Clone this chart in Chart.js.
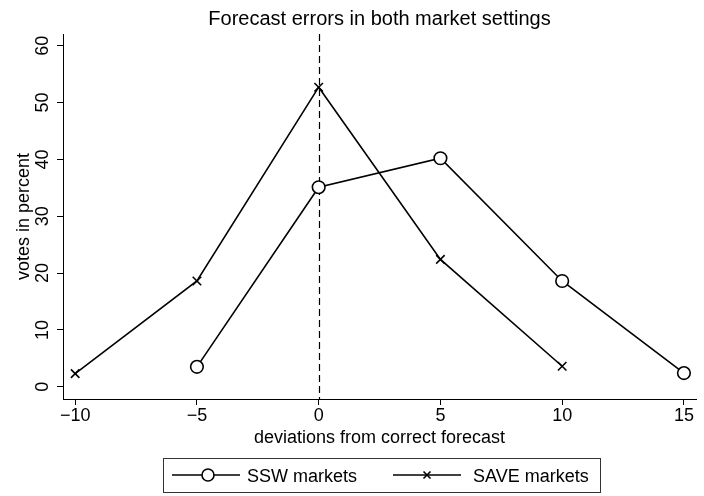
<!DOCTYPE html>
<html>
<head>
<meta charset="utf-8">
<script src="https://cdn.jsdelivr.net/npm/chart.js@4.4.1/dist/chart.umd.min.js"></script>
<style>
html,body{margin:0;padding:0;background:#fff;}
#wrap{width:704px;height:496px;}
</style>
</head>
<body>
<div id="wrap"><canvas id="c" width="704" height="496"></canvas></div>
<script>
// ---- data ----
const sswDeviation = [-5, 0, 5, 10, 15];
const sswVotes = [3.5, 35.1, 40.2, 18.6, 2.4];
const saveDeviation = [-10, -5, 0, 5, 10];
const saveVotes = [2.3, 18.6, 52.7, 22.4, 3.6];
const xTickValues = [-10, -5, 0, 5, 10, 15];
const yTickValues = [0, 10, 20, 30, 40, 50, 60];
const refLineX = 0;
const seriesNames = ['SSW markets', 'SAVE markets'];
const titleText = 'Forecast errors in both market settings';
const xTitleText = 'deviations from correct forecast';
const yTitleText = 'votes in percent';

const FONT = '"Liberation Sans", Arial, Helvetica, sans-serif';
Chart.defaults.font.family = FONT;
Chart.defaults.color = '#000';

function fmt(v) { return v < 0 ? '\u2212' + Math.abs(v) : String(v); }

const decor = {
  id: 'decor',
  beforeDatasetsDraw(chart) {
    const {ctx, chartArea: a, scales: {x}} = chart;
    const px = Math.round(x.getPixelForValue(refLineX)) + 0.5;
    ctx.save();
    ctx.strokeStyle = '#000';
    ctx.lineWidth = 1.2;
    ctx.setLineDash([7, 4]);
    ctx.beginPath();
    ctx.moveTo(px, a.top);
    ctx.lineTo(px, a.bottom);
    ctx.stroke();
    ctx.restore();
  },
  afterDraw(chart) {
    const {ctx, chartArea: a, scales: {x, y}} = chart;
    ctx.save();
    ctx.fillStyle = '#000';
    // title
    ctx.font = '20px ' + FONT;
    ctx.textAlign = 'center';
    ctx.textBaseline = 'alphabetic';
    ctx.fillText(titleText, (a.left + a.right) / 2, 25);
    // x tick labels
    ctx.font = '18px ' + FONT;
    xTickValues.forEach(v => {
      ctx.fillText(fmt(v), x.getPixelForValue(v), 421);
    });
    // x title
    ctx.fillText(xTitleText, (a.left + a.right) / 2, 443);
    // y tick labels (rotated)
    yTickValues.forEach(v => {
      const py = y.getPixelForValue(v);
      ctx.save();
      ctx.translate(48, py);
      ctx.rotate(-Math.PI / 2);
      ctx.fillText(fmt(v), 0, 0);
      ctx.restore();
    });
    // y title
    ctx.save();
    ctx.translate(29, (a.top + a.bottom) / 2);
    ctx.rotate(-Math.PI / 2);
    ctx.fillText(yTitleText, 0, 0);
    ctx.restore();
    // legend
    const ly = 475;
    ctx.strokeStyle = '#333';
    ctx.lineWidth = 1;
    ctx.strokeRect(163.5, 458.5, 437, 34);
    ctx.strokeStyle = '#000';
    ctx.lineWidth = 1.6;
    ctx.beginPath(); ctx.moveTo(172, ly); ctx.lineTo(240, ly); ctx.stroke();
    ctx.beginPath(); ctx.arc(208, ly, 6, 0, Math.PI * 2);
    ctx.fillStyle = '#fff'; ctx.fill(); ctx.stroke();
    ctx.beginPath(); ctx.moveTo(393, ly); ctx.lineTo(461, ly); ctx.stroke();
    ctx.beginPath();
    ctx.moveTo(423.5, ly - 3.5); ctx.lineTo(430.5, ly + 3.5);
    ctx.moveTo(423.5, ly + 3.5); ctx.lineTo(430.5, ly - 3.5);
    ctx.stroke();
    ctx.fillStyle = '#000';
    ctx.font = '18px ' + FONT;
    ctx.textAlign = 'left';
    ctx.fillText(seriesNames[0], 247, 482);
    ctx.fillText(seriesNames[1], 473, 482);
    ctx.restore();
  }
};

const axisGrid = {display: true, drawOnChartArea: false, drawTicks: true, tickLength: 6, color: '#000', lineWidth: 1};

new Chart(document.getElementById('c'), {
  type: 'line',
  data: {
    datasets: [
      {
        label: seriesNames[0],
        data: sswDeviation.map((d, i) => ({x: d, y: sswVotes[i]})),
        borderColor: '#000', borderWidth: 1.6, tension: 0,
        pointStyle: 'circle', pointRadius: 6.3,
        pointBackgroundColor: '#fff', pointBorderColor: '#000', pointBorderWidth: 1.6
      },
      {
        label: seriesNames[1],
        data: saveDeviation.map((d, i) => ({x: d, y: saveVotes[i]})),
        borderColor: '#000', borderWidth: 1.6, tension: 0,
        pointStyle: 'crossRot', pointRadius: 6,
        pointBackgroundColor: '#000', pointBorderColor: '#000', pointBorderWidth: 1.6
      }
    ]
  },
  options: {
    responsive: false,
    animation: false,
    layout: {padding: {top: 34, right: 1, left: 0, bottom: 0}},
    plugins: {legend: {display: false}, title: {display: false}, tooltip: {enabled: false}},
    scales: {
      x: {
        type: 'linear', min: -10.5, max: 15.5,
        afterBuildTicks: s => { s.ticks = xTickValues.map(v => ({value: v})); },
        afterFit: s => { s.height = 97; },
        grid: axisGrid,
        border: {display: true, color: '#000', width: 1},
        ticks: {display: false}
      },
      y: {
        type: 'linear', min: -2.16, max: 62.06,
        afterBuildTicks: s => { s.ticks = yTickValues.map(v => ({value: v})); },
        afterFit: s => { s.width = 63; },
        grid: axisGrid,
        border: {display: true, color: '#000', width: 1},
        ticks: {display: false}
      }
    }
  },
  plugins: [decor]
});
</script>
</body>
</html>
